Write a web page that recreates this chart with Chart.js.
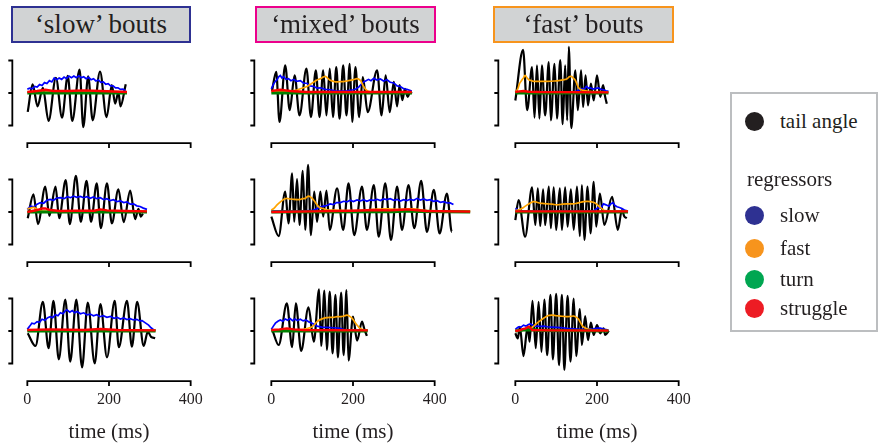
<!doctype html>
<html>
<head>
<meta charset="utf-8">
<title>Bout regressors</title>
<script src="https://cdn.jsdelivr.net/npm/chart.js@4.4.0/dist/chart.umd.min.js"></script>
<style>
body { margin:0; background:#fff; width:880px; height:444px; overflow:hidden; position:relative; font-family:"Liberation Serif", "Times New Roman", serif; color:#231f20; }
canvas { position:absolute; }
.title { position:absolute; top:6px; height:37px; box-sizing:border-box; border:2px solid; background:#d1d3d4; font-size:27px; line-height:32px; text-align:center; white-space:nowrap; }
#legend { position:absolute; left:730px; top:92px; width:148px; height:240px; box-sizing:border-box; border:2px solid #bcbec0; }
.item { position:absolute; font-size:21px; line-height:24px; white-space:nowrap; }
.dot { position:absolute; width:19px; height:19px; border-radius:50%; }
</style>
</head>
<body>
<script>
// names, colours
var seriesNames = ['tail angle', 'slow', 'fast', 'turn', 'struggle'];
var lineColors = ['#000000', '#0000ff', '#ffa500', '#008000', '#ff0000'];
var dotColors = ['#231f20', '#2e3192', '#f7941d', '#00a651', '#ed1c24'];
var boutTitles = ['\u2018slow\u2019 bouts', '\u2018mixed\u2019 bouts', '\u2018fast\u2019 bouts'];
var boutColors = ['#2e3192', '#ec008c', '#f7941d'];
var xTicks = [0, 200, 400];
var xTickLabels = ['0', '200', '400'];
var yTicks = [-1, 0, 1];
var xLabel = 'time (ms)';

// data: [time (ms), value]
// slow bouts
var slow1Tail = [[1,-0.58],[13,0.27],[25,-0.41],[38,0.16],[52,-0.86],[70,0.47],[85,-0.76],[99,0.53],[110,-0.86],[128,0.72],[137,-1.05],[149,0.51],[160,-0.84],[178,0.66],[194,-0.74],[207,0.24],[215,-0.33],[223,0.03],[228,-0.41],[241,0.27]];
var slow1Slow = [[0,0.12],[6,0.15],[12,0.13],[18,0.2],[24,0.18],[30,0.26],[36,0.23],[42,0.32],[48,0.29],[54,0.38],[60,0.34],[66,0.46],[72,0.41],[78,0.46],[84,0.42],[90,0.49],[96,0.44],[102,0.52],[108,0.47],[114,0.52],[120,0.47],[126,0.53],[132,0.47],[138,0.5],[144,0.44],[150,0.48],[156,0.41],[162,0.44],[168,0.37],[174,0.4],[180,0.33],[186,0.34],[192,0.27],[198,0.29],[204,0.22],[210,0.22],[216,0.16],[222,0.16],[228,0.11],[234,0.12],[240,0.08]];
var slow1Fast = [[0,0.03],[120,0.03],[200,0.04],[244,0.03]];
var slow1Turn = [[0,0],[244,0]];
var slow1Struggle = [[0,0.03],[24,0.06],[44,0.1],[64,0.06],[100,0.06],[138,0.08],[179,0.06],[244,0.03]];

var slow2Tail = [[1,-0.19],[15,0.54],[26,-0.37],[44,0.78],[54,-0.12],[69,0.78],[78,-0.19],[94,0.98],[104,-0.37],[119,1.11],[131,-0.3],[145,0.96],[156,-0.3],[170,0.88],[180,-0.5],[195,0.88],[207,-0.35],[223,0.7],[236,-0.31],[252,0.66],[264,-0.22],[272,0.1],[278,-0.14],[283,-0.05]];
var slow2Slow = [[0,0.08],[8,0.18],[16,0.16],[24,0.24],[32,0.29],[40,0.27],[48,0.36],[56,0.39],[64,0.36],[72,0.43],[81,0.44],[90,0.41],[98,0.47],[106,0.44],[113,0.49],[121,0.45],[130,0.48],[138,0.44],[146,0.47],[154,0.42],[162,0.46],[170,0.41],[179,0.44],[187,0.38],[195,0.41],[203,0.35],[211,0.38],[219,0.32],[228,0.34],[236,0.29],[244,0.31],[252,0.24],[260,0.25],[268,0.19],[276,0.17],[284,0.12],[293,0.08]];
var slow2Fast = [[0,0.1],[8,0.12],[15,0.14],[22,0.1],[28,0.06],[40,0.03],[293,0.02]];
var slow2Turn = [[0,0],[293,0]];
var slow2Struggle = [[0,0],[12,0.03],[24,0.06],[36,0.11],[44,0.11],[56,0.06],[80,0.03],[120,0.04],[164,0.04],[179,0.08],[195,0.05],[240,0.03],[293,0.02]];

var slow3Tail = [[1,-0.07],[20,-0.46],[38,0.9],[52,-0.53],[64,0.93],[77,-0.87],[93,0.97],[105,-0.94],[120,0.97],[134,-1.12],[148,0.87],[165,-1.0],[179,0.83],[195,-0.81],[214,0.93],[224,-0.5],[244,0.93],[256,-0.48],[269,0.9],[285,-0.46],[295,-0.02],[303,-0.18],[313,-0.22]];
var slow3Slow = [[0,0.05],[6,0.15],[11,0.24],[17,0.22],[24,0.29],[30,0.27],[36,0.36],[43,0.33],[50,0.41],[56,0.44],[62,0.41],[69,0.5],[75,0.47],[81,0.56],[87,0.53],[93,0.62],[97,0.65],[104,0.58],[110,0.63],[116,0.56],[122,0.6],[130,0.53],[138,0.56],[146,0.5],[154,0.52],[162,0.47],[170,0.5],[178,0.44],[186,0.47],[195,0.42],[204,0.45],[212,0.39],[220,0.42],[228,0.37],[236,0.4],[244,0.35],[252,0.38],[260,0.34],[268,0.36],[275,0.31],[281,0.32],[289,0.25],[297,0.18],[303,0.1],[309,0.04],[314,0.02]];
var slow3Fast = [[0,0.02],[314,0.02]];
var slow3Turn = [[0,0],[314,0]];
var slow3Struggle = [[0,0.03],[56,0.05],[100,0.04],[138,0.03],[179,0.06],[220,0.03],[314,0.02]];

// mixed bouts
var mixed1Tail = [[1.6,0.06],[12,0.65],[20,-0.89],[34,0.85],[45,-0.53],[57,0.54],[69,-0.69],[86,0.75],[97,-0.74],[109,0.7],[118,-0.74],[127,0.7],[135,-0.69],[143,0.75],[151,-0.74],[159,0.8],[167,-0.79],[176,0.85],[184,-0.69],[192,0.9],[198,-0.89],[206,0.8],[215,-0.74],[224,0.49],[236,-0.59],[259,0.7],[270,-0.69],[280,0.54],[290,-0.59],[300,0.34],[308,-0.41],[314,0.24],[321,-0.22],[327,0.13],[334,-0.12],[340,0.03],[344,-0.02]];
var mixed1Slow = [[0,0.13],[6,0.29],[10,0.36],[14,0.41],[18,0.5],[22,0.54],[26,0.46],[30,0.5],[36,0.42],[42,0.44],[48,0.38],[55,0.42],[62,0.36],[71,0.38],[79,0.3],[87,0.3],[95,0.22],[104,0.2],[112,0.15],[120,0.16],[132,0.11],[144,0.1],[156,0.07],[169,0.06],[185,0.07],[202,0.1],[208,0.13],[214,0.18],[220,0.27],[226,0.34],[232,0.38],[238,0.42],[244,0.38],[251,0.45],[259,0.4],[267,0.43],[275,0.37],[283,0.41],[291,0.33],[300,0.31],[308,0.22],[316,0.2],[324,0.13],[332,0.11],[344,0.06]];
var mixed1Fast = [[0,0.03],[47,0.06],[60,0.08],[71,0.13],[87,0.2],[96,0.27],[104,0.34],[112,0.4],[120,0.44],[127,0.49],[132,0.51],[138,0.46],[144,0.39],[152,0.36],[161,0.34],[169,0.35],[177,0.35],[185,0.37],[193,0.39],[201,0.41],[210,0.44],[218,0.39],[222,0.3],[226,0.2],[230,0.13],[234,0.08],[242,0.04],[251,0.02],[344,0.02]];
var mixed1Turn = [[0,0],[344,0]];
var mixed1Struggle = [[0,0.06],[10,0.08],[22,0.1],[35,0.08],[47,0.06],[87,0.03],[344,0.03]];

var mixed2Tail = [[0,-0.14],[18,-0.74],[34,0.63],[42,-0.35],[51,1.19],[56,-0.3],[63,1.01],[69,-0.4],[77,1.27],[83,-0.55],[90,1.45],[97,-0.71],[105,0.63],[112,-0.3],[120,0.63],[127,-0.14],[135,0.66],[143,-0.55],[161,0.73],[176,-0.55],[189,0.88],[203,-0.71],[222,0.78],[234,-0.55],[251,0.83],[263,-0.76],[279,0.88],[293,-0.86],[308,0.78],[320,-0.55],[336,0.83],[350,-0.5],[367,0.96],[381,-0.61],[398,0.68],[412,-0.66],[430,0.57],[442,-0.61],[453,-0.19],[459,-0.27],[465,0.03],[471,-0.04]];
var mixed2Slow = [[0,0.03],[60,0.03],[100,0.04],[108,0.08],[112,0.11],[120,0.15],[128,0.18],[136,0.2],[144,0.25],[152,0.23],[160,0.29],[169,0.29],[177,0.33],[185,0.31],[193,0.36],[201,0.32],[210,0.37],[218,0.34],[226,0.38],[234,0.33],[242,0.37],[251,0.36],[259,0.39],[267,0.35],[275,0.4],[283,0.38],[291,0.41],[300,0.36],[308,0.39],[316,0.34],[324,0.38],[332,0.35],[340,0.39],[349,0.36],[357,0.42],[365,0.37],[373,0.4],[381,0.36],[389,0.38],[397,0.33],[406,0.35],[414,0.3],[422,0.32],[430,0.28],[438,0.28],[446,0.23],[455,0.22],[463,0.15],[471,0.11],[479,0.06],[487,0.04]];
var mixed2Fast = [[0,0.06],[7,0.12],[14,0.22],[20,0.29],[26,0.35],[32,0.4],[38,0.42],[46,0.4],[55,0.39],[63,0.38],[71,0.39],[77,0.41],[83,0.42],[87,0.46],[91,0.49],[96,0.46],[100,0.42],[104,0.36],[108,0.29],[112,0.22],[116,0.16],[122,0.12],[128,0.1],[136,0.07],[144,0.06],[200,0.04],[230,0.06],[251,0.08],[275,0.1],[292,0.09],[308,0.08],[330,0.09],[349,0.1],[365,0.07],[381,0.04],[487,0.03]];
var mixed2Turn = [[0,0],[300,0.01],[330,0.03],[360,0.02],[487,0]];
var mixed2Struggle = [[0,0],[100,0.02],[200,0.04],[251,0.06],[290,0.05],[320,0.07],[332,0.08],[350,0.06],[381,0.03],[487,0.01]];

var mixed3Tail = [[2,0.05],[18,-0.43],[38,0.85],[51,-0.5],[60,0.85],[73,-0.61],[91,0.73],[104,-0.33],[117,1.28],[122,-0.46],[130,1.24],[136,-0.58],[143,1.21],[150,-0.69],[157,1.11],[163,-0.81],[171,1.18],[177,-0.74],[184,1.26],[189,-0.91],[200,0.44],[210,-0.3],[222,0.29],[228,0.05],[234,-0.15]];
var mixed3Slow = [[0,0.05],[5,0.15],[10,0.24],[16,0.3],[22,0.34],[28,0.3],[34,0.37],[40,0.33],[46,0.38],[52,0.32],[58,0.37],[64,0.32],[71,0.36],[78,0.31],[85,0.34],[92,0.28],[100,0.24],[106,0.19],[112,0.15],[124,0.12],[136,0.11],[152,0.1],[169,0.08],[178,0.04],[190,0.03],[236,0.02]];
var mixed3Fast = [[0,0.03],[60,0.03],[79,0.05],[90,0.08],[100,0.13],[106,0.2],[112,0.29],[120,0.35],[128,0.39],[136,0.41],[144,0.42],[152,0.42],[161,0.44],[170,0.44],[178,0.46],[185,0.49],[192,0.45],[198,0.39],[204,0.28],[210,0.18],[214,0.12],[218,0.08],[225,0.04],[236,0.03]];
var mixed3Turn = [[0,0],[236,0]];
var mixed3Struggle = [[0,0.03],[20,0.05],[38,0.08],[55,0.05],[79,0.03],[236,0.02]];

// fast bouts
var fast1Tail = [[0,-0.23],[19,1.33],[29,-0.53],[41,0.8],[47,-0.76],[53,0.85],[59,-0.79],[65,0.85],[73,-0.69],[82,0.95],[87,-0.84],[96,0.9],[102,-0.79],[110,1.01],[116,-0.96],[122,0.85],[127,-0.84],[131,1.42],[137,-1.08],[147,0.7],[153,-0.53],[161,0.7],[166,-0.43],[172,0.54],[178,-0.38],[185,0.29],[192,-0.23],[200,0.54],[208,-0.12],[215,0.24],[220,-0.12],[224,-0.33]];
var fast1Slow = [[0,0.02],[140,0.02],[151,0.06],[157,0.1],[163,0.13],[168,0.11],[174,0.2],[179,0.15],[184,0.16],[190,0.12],[197,0.14],[204,0.16],[210,0.11],[216,0.1],[222,0.07],[228,0.05]];
var fast1Fast = [[0,0.02],[6,0.13],[10,0.28],[14,0.36],[19,0.45],[24,0.54],[29,0.46],[33,0.41],[39,0.38],[45,0.36],[60,0.36],[78,0.36],[95,0.37],[110,0.39],[120,0.41],[127,0.44],[132,0.5],[137,0.51],[142,0.46],[147,0.39],[151,0.27],[155,0.16],[161,0.1],[167,0.08],[180,0.05],[200,0.04],[228,0.03]];
var fast1Turn = [[0,0],[228,0]];
var fast1Struggle = [[0,0.03],[10,0.05],[20,0.06],[32,0.04],[60,0.03],[228,0.02]];

var fast2Tail = [[0,-0.25],[8,0.37],[24,-0.76],[41,0.76],[49,-0.4],[55,0.73],[61,-0.43],[68,0.7],[73,-0.4],[82,0.78],[87,-0.5],[94,0.76],[100,-0.55],[109,0.73],[114,-0.55],[122,0.76],[128,-0.45],[136,0.7],[143,-0.55],[151,0.78],[158,-0.74],[163,0.83],[169,-0.86],[177,0.78],[184,-0.66],[192,0.93],[198,-0.45],[207,0.57],[218,-0.4],[237,0.47],[251,-0.55],[261,0.06],[267,-0.14],[273,-0.19]];
var fast2Slow = [[0,0.11],[8,0.06],[20,0.03],[180,0.03],[192,0.04],[198,0.09],[204,0.14],[210,0.12],[216,0.25],[222,0.22],[229,0.18],[234,0.25],[239,0.29],[244,0.2],[249,0.16],[255,0.14],[261,0.11],[267,0.06],[276,0.03]];
var fast2Fast = [[0,0.04],[12,0.08],[20,0.14],[29,0.22],[37,0.28],[45,0.32],[53,0.3],[61,0.27],[70,0.26],[78,0.25],[90,0.24],[102,0.22],[115,0.24],[127,0.25],[139,0.25],[151,0.27],[160,0.3],[167,0.32],[176,0.33],[184,0.32],[190,0.3],[196,0.27],[202,0.21],[208,0.14],[214,0.08],[220,0.04],[276,0.02]];
var fast2Turn = [[0,0],[276,0]];
var fast2Struggle = [[0,0.02],[276,0.02]];

var fast3Tail = [[0,-0.07],[6,-0.23],[11,0.13],[20,-0.77],[30,0.13],[35,-0.33],[42,0.93],[50,-0.53],[57,0.9],[64,-0.64],[71,0.97],[78,-0.74],[86,1.11],[92,-0.87],[100,1.14],[107,-1.05],[114,1.11],[120,-1.2],[128,1.08],[135,-0.94],[143,1.0],[149,-0.77],[158,0.67],[163,-0.43],[171,0.46],[178,-0.28],[185,0.26],[192,-0.12],[200,0.18],[208,-0.07],[216,0.08],[220,-0.12],[229,0.01]];
var fast3Slow = [[0,0.05],[5,0.1],[8,0.13],[14,0.12],[20,0.18],[26,0.15],[32,0.2],[37,0.22],[45,0.16],[53,0.15],[61,0.14],[70,0.15],[78,0.13],[90,0.12],[102,0.11],[115,0.1],[127,0.08],[143,0.07],[160,0.05],[176,0.06],[192,0.07],[200,0.09],[208,0.09],[216,0.06],[228,0.03]];
var fast3Fast = [[0,0.01],[29,0.03],[37,0.08],[45,0.15],[53,0.24],[61,0.32],[70,0.4],[78,0.46],[84,0.48],[90,0.49],[100,0.47],[110,0.46],[118,0.45],[127,0.44],[135,0.45],[143,0.46],[150,0.42],[155,0.36],[160,0.25],[164,0.16],[170,0.1],[180,0.05],[200,0.02],[228,0.01]];
var fast3Turn = [[0,0],[20,0.03],[40,0.04],[60,0.02],[228,0]];
var fast3Struggle = [[0,0],[10,0.02],[16,0.05],[25,0.08],[33,0.13],[38,0.08],[41,0.03],[80,0.02],[228,0.01]];

// panels[row][col] -> [tail, slow, fast, turn, struggle]
var panels = [
  [[slow1Tail, slow1Slow, slow1Fast, slow1Turn, slow1Struggle],
   [mixed1Tail, mixed1Slow, mixed1Fast, mixed1Turn, mixed1Struggle],
   [fast1Tail, fast1Slow, fast1Fast, fast1Turn, fast1Struggle]],
  [[slow2Tail, slow2Slow, slow2Fast, slow2Turn, slow2Struggle],
   [mixed2Tail, mixed2Slow, mixed2Fast, mixed2Turn, mixed2Struggle],
   [fast2Tail, fast2Slow, fast2Fast, fast2Turn, fast2Struggle]],
  [[slow3Tail, slow3Slow, slow3Fast, slow3Turn, slow3Struggle],
   [mixed3Tail, mixed3Slow, mixed3Fast, mixed3Turn, mixed3Struggle],
   [fast3Tail, fast3Slow, fast3Fast, fast3Turn, fast3Struggle]]
];

var lineWidths = [2.2, 1.7, 1.7, 3.2, 2.4];
var yAxisGap = [15, 17, 17];
var FONT = '"Liberation Serif", "Times New Roman", serif';

// offset axes (seaborn style despine) drawn from the chart's scales
var despinePlugin = {
  id: 'despine',
  afterDraw: function(chart) {
    var o = chart.options.plugins.despine;
    var ctx = chart.ctx, xs = chart.scales.x, ys = chart.scales.y;
    ctx.save();
    ctx.strokeStyle = '#000';
    ctx.lineWidth = 1.8;
    var ay = ys.getPixelForValue(-1.54);
    var x0 = xs.getPixelForValue(xTicks[0]);
    var x1 = xs.getPixelForValue(xTicks[xTicks.length - 1]);
    ctx.beginPath();
    ctx.moveTo(x0 - 0.9, ay);
    ctx.lineTo(x1 + 0.9, ay);
    xTicks.forEach(function(v) {
      var px = xs.getPixelForValue(v);
      ctx.moveTo(px, ay);
      ctx.lineTo(px, ay + 5);
    });
    var ax = x0 - o.gap;
    ctx.moveTo(ax, ys.getPixelForValue(yTicks[yTicks.length - 1]) - 0.9);
    ctx.lineTo(ax, ys.getPixelForValue(yTicks[0]) + 0.9);
    yTicks.forEach(function(v) {
      var py = ys.getPixelForValue(v);
      ctx.moveTo(ax, py);
      ctx.lineTo(ax - 4, py);
    });
    ctx.stroke();
    if (o.labels) {
      ctx.fillStyle = '#231f20';
      ctx.textAlign = 'center';
      ctx.textBaseline = 'middle';
      ctx.font = '16px ' + FONT;
      xTicks.forEach(function(v, i) {
        ctx.fillText(xTickLabels[i], xs.getPixelForValue(v), ay + 19);
      });
      ctx.font = '21px ' + FONT;
      ctx.fillText(xLabel, xs.getPixelForValue(200), ay + 51);
    }
    ctx.restore();
  }
};

panels.forEach(function(rowPanels, row) {
  rowPanels.forEach(function(series, col) {
    var c = document.createElement('canvas');
    c.width = 236;
    c.height = 234;
    c.style.left = (1 + col * 244) + 'px';
    c.style.top = (31 + row * 119) + 'px';
    document.body.appendChild(c);
    new Chart(c, {
      type: 'line',
      data: {
        datasets: series.map(function(d, i) {
          return {
            label: seriesNames[i],
            data: d,
            borderColor: lineColors[i],
            borderWidth: lineWidths[i],
            pointRadius: 0,
            fill: false,
            cubicInterpolationMode: i === 0 ? 'monotone' : 'default',
            tension: i === 2 ? 0.3 : 0,
            order: i === 0 ? 10 : 5 - i,
            clip: false
          };
        })
      },
      options: {
        responsive: false,
        animation: false,
        events: [],
        layout: { padding: { left: 10, right: 30, top: 10, bottom: 120 } },
        plugins: {
          legend: { display: false },
          tooltip: { enabled: false },
          despine: { gap: yAxisGap[col], labels: row === 2 }
        },
        scales: {
          x: { type: 'linear', min: -40, max: 440, display: false },
          y: { type: 'linear', min: -1.6, max: 1.6, display: false }
        }
      },
      plugins: [despinePlugin]
    });
  });
});

// bout titles
var titleLefts = [11, 255, 493];
var titleWidths = [180, 181, 181];
boutTitles.forEach(function(t, i) {
  var d = document.createElement('div');
  d.className = 'title';
  d.style.left = titleLefts[i] + 'px';
  d.style.width = titleWidths[i] + 'px';
  d.style.borderColor = boutColors[i];
  d.textContent = t;
  document.body.appendChild(d);
});

// figure legend
var legend = document.createElement('div');
legend.id = 'legend';
document.body.appendChild(legend);
var itemTops = [27, 121, 154, 185, 214];
function addItem(text, top, left) {
  var s = document.createElement('div');
  s.className = 'item';
  s.style.left = left + 'px';
  s.style.top = (top - 12) + 'px';
  s.textContent = text;
  legend.appendChild(s);
}
seriesNames.forEach(function(name, i) {
  var dot = document.createElement('div');
  dot.className = 'dot';
  dot.style.background = dotColors[i];
  dot.style.left = '12.5px';
  dot.style.top = (itemTops[i] - 9.5) + 'px';
  legend.appendChild(dot);
  addItem(name, itemTops[i], 48);
});
addItem('regressors', 85, 15);
</script>
</body>
</html>
